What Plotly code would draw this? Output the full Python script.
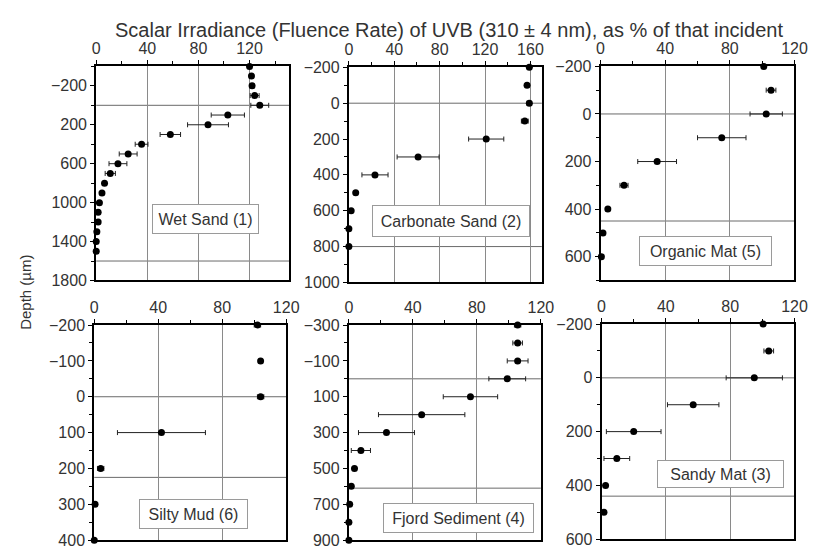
import plotly.graph_objects as go

# page body has an 8px default margin: figure is drawn at (8, 8) in the window
OFF = 8
W, H = 830 - OFF, 553 - OFF

# ---------------- data ----------------
wet_sand_depth = [-400, -300, -200, -100, 0, 100, 200, 300, 400, 500, 600, 700, 800, 900, 1000, 1100, 1200, 1300, 1400, 1500]
wet_sand_pct   = [120, 121.5, 122, 124, 128, 103, 87.5, 58, 35.5, 25, 17, 11, 6.5, 4.5, 2.5, 1.5, 1.5, 0.5, 0, 0]
wet_sand_err   = [0, 1, 1.5, 3.5, 7, 13, 16, 8, 5, 7, 7, 4, 0, 0, 0, 0, 0, 0, 0, 0]

carb_sand_depth = [-200, -100, 0, 100, 200, 300, 400, 500, 600, 700, 800]
carb_sand_pct   = [159, 157, 159, 155, 121, 61, 23, 6, 2, 0, 0]
carb_sand_err   = [0, 0, 2, 3, 15.5, 18.5, 11.5, 0, 0, 0, 0]

org_mat_depth = [-200, -100, 0, 100, 200, 300, 400, 500, 600]
org_mat_pct   = [101, 105.5, 102.5, 75, 35, 14.5, 4.5, 1.5, 0.5]
org_mat_err   = [0, 3, 10, 15, 12, 2.5, 0, 0, 0]

silty_mud_depth = [-200, -100, 0, 100, 200, 300, 400]
silty_mud_pct   = [102, 104, 104, 42, 4, 0.5, 0]
silty_mud_err   = [2, 1, 2, 27.5, 2, 0, 0]

fjord_depth = [-300, -200, -100, 0, 100, 200, 300, 400, 500, 600, 700, 800, 900]
fjord_pct   = [105.5, 105.5, 105.5, 99, 76, 45.5, 23.5, 7.5, 3.5, 1.5, 0.5, 0, 0]
fjord_err   = [2, 3, 6.5, 11.5, 17, 27, 17.5, 6, 1, 0, 0, 0, 0]

sandy_mat_depth = [-200, -100, 0, 100, 200, 300, 400, 500]
sandy_mat_pct   = [100.5, 104, 95, 57, 20, 9.5, 2.5, 1.5]
sandy_mat_err   = [0, 3, 17.5, 16, 17, 8, 0, 0]

panel_labels = ["Wet Sand (1)", "Carbonate Sand (2)", "Organic Mat (5)",
                "Silty Mud (6)", "Fjord Sediment (4)", "Sandy Mat (3)"]
# label anchor positions in data units (x %, depth)
label_x = [85.6, 90.4, 64.8, 62.1, 68.8, 74.0]
label_depth = [1167, 658, 574, 326, 778, 356]
# horizontal reference lines (surface and lower boundary), depth units
ref_lines = [[0, 1600], [0, 800], [0, 450], [0, 225], [0, 610], [0, 440]]

x_ranges = [[0, 151], [0, 170], [0, 120], [0, 120], [0, 120], [0, 120]]
x_ticks = [[0, 40, 80, 120], [0, 40, 80, 120, 160], [0, 40, 80, 120],
           [0, 40, 80, 120], [0, 40, 80, 120], [0, 40, 80, 120]]
y_ranges = [[-400, 1800], [-200, 1000], [-200, 700], [-200, 400], [-300, 900], [-200, 600]]
y_ticks = [[-200, 200, 600, 1000, 1400, 1800],
           [-200, 0, 200, 400, 600, 800, 1000],
           [-200, 0, 200, 400, 600],
           [-200, -100, 0, 100, 200, 300, 400],
           [-300, -100, 100, 300, 500, 700, 900],
           [-200, 0, 200, 400, 600]]

title_text = "Scalar Irradiance (Fluence Rate) of UVB (310 \u00b1 4 nm), as % of that incident"
ytitle_text = "Depth (\u00b5m)"

series = [
    (wet_sand_pct, wet_sand_depth, wet_sand_err),
    (carb_sand_pct, carb_sand_depth, carb_sand_err),
    (org_mat_pct, org_mat_depth, org_mat_err),
    (silty_mud_pct, silty_mud_depth, silty_mud_err),
    (fjord_pct, fjord_depth, fjord_err),
    (sandy_mat_pct, sandy_mat_depth, sandy_mat_err),
]

# ---------------- layout geometry (window pixels) ----------------
px_x = [(94, 291), (352, 549), (609, 807), (92, 288), (352, 548), (610, 807)]
px_y = [(60, 281), (61, 283), (60, 281), (327, 549), (327, 549), (326, 548)]
box_size = [(107, 30), (158, 32), (133, 30), (109, 30), (151, 30), (127, 28)]
minor_y = [200, 100, 100, 50, 100, 100]


def fx(px):
    return (px - OFF) / W


def fy(py):
    return 1 - (py - OFF) / H


FONT = "Liberation Sans, Arial, sans-serif"
TXT = "#333333"
TICK_SIZE = 16

fig = go.Figure()
layout = dict(
    width=W, height=H, margin=dict(l=0, r=0, t=0, b=0),
    paper_bgcolor="white", plot_bgcolor="white", showlegend=False,
    font=dict(family=FONT, color=TXT, size=14),
)
annotations = []
shapes = []

for i, (xs, ys, es) in enumerate(series):
    k = "" if i == 0 else str(i + 1)
    xa, ya = "x" + k, "y" + k
    fig.add_trace(go.Scatter(
        x=xs, y=ys, mode="markers", xaxis=xa, yaxis=ya, cliponaxis=False,
        marker=dict(color="black", size=7),
        error_x=dict(type="data", array=es, visible=True, color="#222222",
                     thickness=1, width=2.5),
    ))
    x0, x1 = px_x[i]
    yt, yb = px_y[i]
    layout["xaxis" + k] = dict(
        domain=[fx(x0), fx(x1)], anchor=ya, side="top", range=x_ranges[i],
        tickvals=x_ticks[i], ticks="outside", ticklen=4, tickwidth=1, tickcolor="black",
        showline=True, linecolor="black", linewidth=2, mirror=True,
        showgrid=True, gridcolor="#8a8a8a", gridwidth=1, zeroline=False,
        tickfont=dict(size=TICK_SIZE, color=TXT, family=FONT),
        minor=dict(dtick=20, tick0=0, ticks="outside", ticklen=3, tickcolor="black", showgrid=False),
        fixedrange=True,
    )
    layout["yaxis" + k] = dict(
        domain=[fy(yb), fy(yt)], anchor=xa, range=[y_ranges[i][1], y_ranges[i][0]],
        tickvals=y_ticks[i], ticks="outside", ticklen=4, tickwidth=1, tickcolor="black",
        showline=True, linecolor="black", linewidth=2, mirror=True,
        showgrid=False, zeroline=False,
        tickfont=dict(size=TICK_SIZE, color=TXT, family=FONT),
        minor=dict(dtick=minor_y[i], tick0=0, ticks="outside", ticklen=3, tickcolor="black", showgrid=False),
        fixedrange=True,
    )
    for d in ref_lines[i]:
        shapes.append(dict(type="line", xref=xa + " domain", yref=ya, x0=0, x1=1, y0=d, y1=d,
                           line=dict(color="#6a6a6a", width=1), layer="below"))
    bw, bh = box_size[i]
    annotations.append(dict(
        x=label_x[i], y=label_depth[i], xref=xa, yref=ya, text=panel_labels[i],
        showarrow=False, width=bw - 4, height=bh - 4, borderpad=1,
        bordercolor="#9a9a9a", borderwidth=1, bgcolor="white",
        font=dict(size=16, color=TXT, family=FONT),
    ))

annotations.append(dict(x=fx(454), y=fy(22), xref="paper", yref="paper", text=title_text,
                        showarrow=False, font=dict(size=20, color=TXT, family=FONT),
                        xanchor="center", yanchor="middle"))
annotations.append(dict(x=fx(21), y=fy(293), xref="paper", yref="paper", text=ytitle_text,
                        showarrow=False, textangle=-90, font=dict(size=15, color=TXT, family=FONT),
                        xanchor="center", yanchor="middle"))

layout["annotations"] = annotations
layout["shapes"] = shapes
fig.update_layout(**layout)
fig.write_html("out.html")
